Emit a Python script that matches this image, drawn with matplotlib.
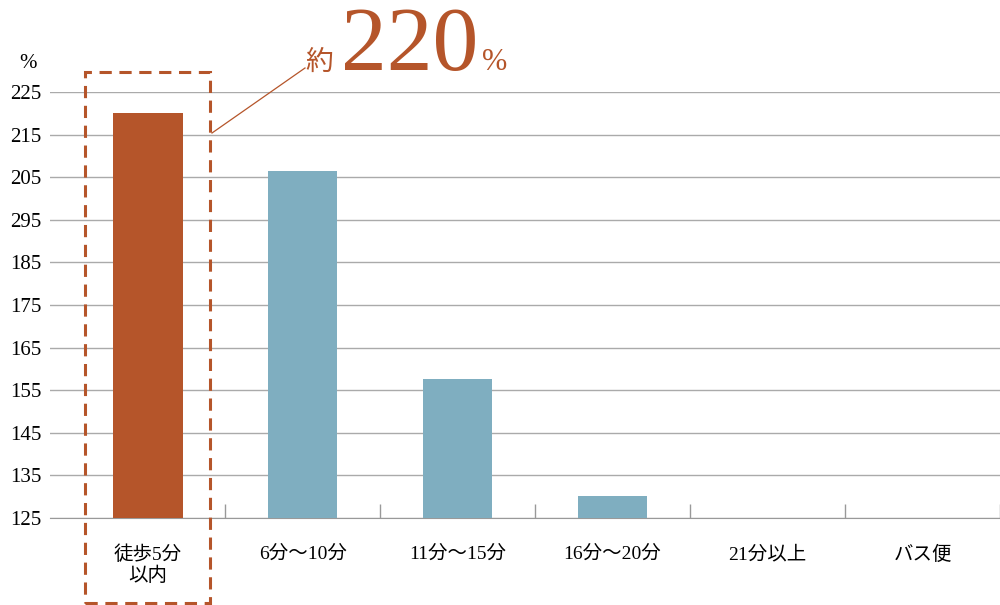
import matplotlib.pyplot as plt
from matplotlib.patches import Rectangle

plt.rcParams['font.family'] = ['Liberation Serif', 'Noto Sans CJK JP']

categories = ["徒歩5分\n以内", "6分〜10分", "11分〜15分", "16分〜20分", "21分以上", "バス便"]
values = [220, 206.5, 157.5, 130.2, None, None]
tick_values = [125, 135, 145, 155, 165, 175, 185, 195, 205, 215, 225]
tick_labels = ["125", "135", "145", "155", "165", "175", "185", "295", "205", "215", "225"]

orange = "#B5552A"
blue = "#7FAEC0"

fig = plt.figure(figsize=(10, 6.05), dpi=100)
ax = fig.add_axes([0.05, 0.144, 0.95, 0.704])

base = 125
for i, v in enumerate(values):
    if v is None:
        continue
    ax.bar(i, v - base, bottom=base, width=0.45,
           color=orange if i == 0 else blue, zorder=3)

ax.set_xlim(-0.63, 5.5)
ax.set_ylim(125, 225)
ax.set_yticks(tick_values)
ax.set_yticklabels(tick_labels, fontsize=15)
ax.set_xticks(range(len(categories)))
ax.set_xticklabels(categories, fontsize=14)
ax.tick_params(axis='x', length=0, pad=20)
ax.tick_params(axis='y', length=0, pad=6)
ax.set_xticks([0.5, 1.5, 2.5, 3.5, 4.5, 5.5], minor=True)
ax.tick_params(axis='x', which='minor', direction='in', length=10,
               color="#999999", width=1)
ax.grid(axis='y', color="#AAAAAA", linewidth=1, zorder=0)
for s in ax.spines.values():
    s.set_visible(False)
ax.spines['bottom'].set_visible(True)
ax.spines['bottom'].set_color("#999999")

# dashed highlight box
ax.add_patch(Rectangle((-0.405, 105), 0.81, 124.7, fill=False, edgecolor=orange,
                       linestyle=(0, (4, 2.5)), linewidth=2.2, clip_on=False, zorder=4))

fig.text(0.028, 0.888, "%", fontsize=15, ha='center')

# callout
fig.add_artist(plt.Line2D([0.212, 0.305], [1 - 133/605, 1 - 68/605],
                          color=orange, linewidth=0.9))
fig.text(0.305, 0.885, "約", fontsize=20, color=orange, ha='left', va='baseline')
fig.text(0.341, 0.885, "220", fontsize=66, color=orange, ha='left', va='baseline')
fig.text(0.482, 0.885, "%", fontsize=22, color=orange, ha='left', va='baseline')

fig.savefig("out.png", dpi=100)
